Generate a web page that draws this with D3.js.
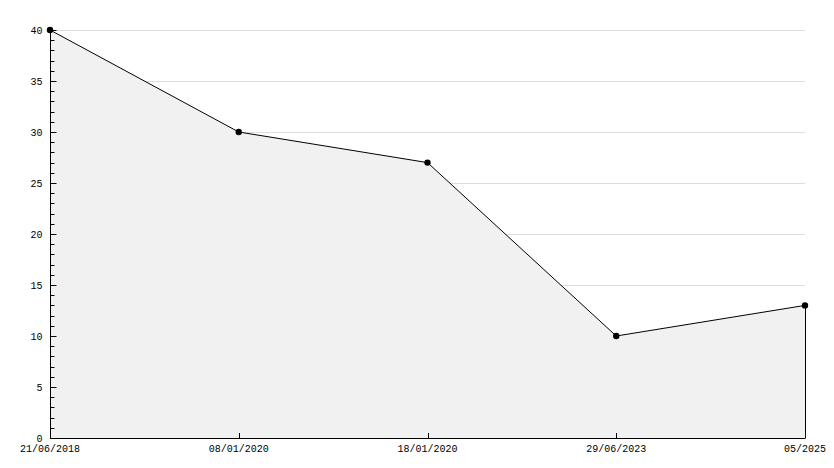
<!DOCTYPE html>
<html><head><meta charset="utf-8">
<script src="https://cdn.jsdelivr.net/npm/d3@7"></script>
<style>html,body{margin:0;padding:0;background:#fff;}svg{display:block;}</style>
</head><body>
<script>
const categories = ["21/06/2018", "08/01/2020", "18/01/2020", "29/06/2023", "05/2025"];
const values = [40, 30, 27, 10, 13];
const yTicks = [0, 5, 10, 15, 20, 25, 30, 35, 40];

const W = 834, H = 468;
const svg = d3.select("body").append("svg").attr("width", W).attr("height", H);
const x = d3.scalePoint().domain(categories).range([50, 805]);
const y = d3.scaleLinear().domain([0, 40]).range([438, 30]);
const font = "'Liberation Mono', monospace";
const data = categories.map((c, i) => ({c, v: values[i]}));

// gridlines
svg.append("g").selectAll("line").data(yTicks.filter(t => t > 0)).join("line")
  .attr("x1", 50).attr("x2", 805)
  .attr("y1", d => y(d) + 0.5).attr("y2", d => y(d) + 0.5)
  .attr("stroke", "#dcdcdc").attr("stroke-width", 1);

// area
svg.append("path").datum(data)
  .attr("d", d3.area().x(d => x(d.c)).y0(y(0)).y1(d => y(d.v)))
  .attr("fill", "#f1f1f1");

// right edge
svg.append("line")
  .attr("x1", x(categories[categories.length-1]) + 0.5).attr("x2", x(categories[categories.length-1]) + 0.5)
  .attr("y1", y(values[values.length-1])).attr("y2", y(0))
  .attr("stroke", "#000");

// line
svg.append("path").datum(data)
  .attr("d", d3.line().x(d => x(d.c)).y(d => y(d.v)))
  .attr("fill", "none").attr("stroke", "#000").attr("stroke-width", 1);

// y axis
const yAxis = svg.append("g").attr("transform", "translate(50.5,0)");
yAxis.append("line").attr("y1", y(40)).attr("y2", y(0) + 0.5).attr("stroke", "#000");
const minor = d3.range(0, 41, 1).filter(d => d % 5 !== 0);
yAxis.selectAll("line.minor").data(minor).join("line").attr("class", "minor")
  .attr("x1", 0).attr("x2", 4).attr("y1", d => Math.round(y(d)) + 0.5).attr("y2", d => Math.round(y(d)) + 0.5)
  .attr("stroke", "#000");
yAxis.selectAll("line.major").data(yTicks).join("line").attr("class", "major")
  .attr("x1", 0).attr("x2", 6).attr("y1", d => Math.round(y(d)) + 0.5).attr("y2", d => Math.round(y(d)) + 0.5)
  .attr("stroke", "#000");
yAxis.selectAll("text").data(yTicks).join("text")
  .attr("x", -8).attr("y", d => y(d)).attr("dy", "0.35em")
  .attr("text-anchor", "end").attr("font-family", font).attr("font-size", 10).attr("fill", "#000")
  .text(d => d);

// x axis
const xAxis = svg.append("g");
xAxis.append("line").attr("x1", 50).attr("x2", 805.5).attr("y1", y(0) + 0.5).attr("y2", y(0) + 0.5).attr("stroke", "#000");
xAxis.selectAll("line.t").data(categories).join("line").attr("class", "t")
  .attr("x1", d => Math.round(x(d)) + 0.5).attr("x2", d => Math.round(x(d)) + 0.5)
  .attr("y1", y(0)).attr("y2", y(0) - 5).attr("stroke", "#000");
xAxis.selectAll("text").data(categories).join("text")
  .attr("x", d => x(d)).attr("y", y(0) + 14)
  .attr("text-anchor", "middle").attr("font-family", font).attr("font-size", 10).attr("fill", "#000")
  .text(d => d);

// markers
svg.append("g").selectAll("path").data(data).join("path")
  .attr("transform", d => `translate(${x(d.c)},${y(d.v)})`)
  .attr("d", d3.symbol().type(d3.symbolCircle).size(32))
  .attr("fill", "#000");
</script>
</body></html>
